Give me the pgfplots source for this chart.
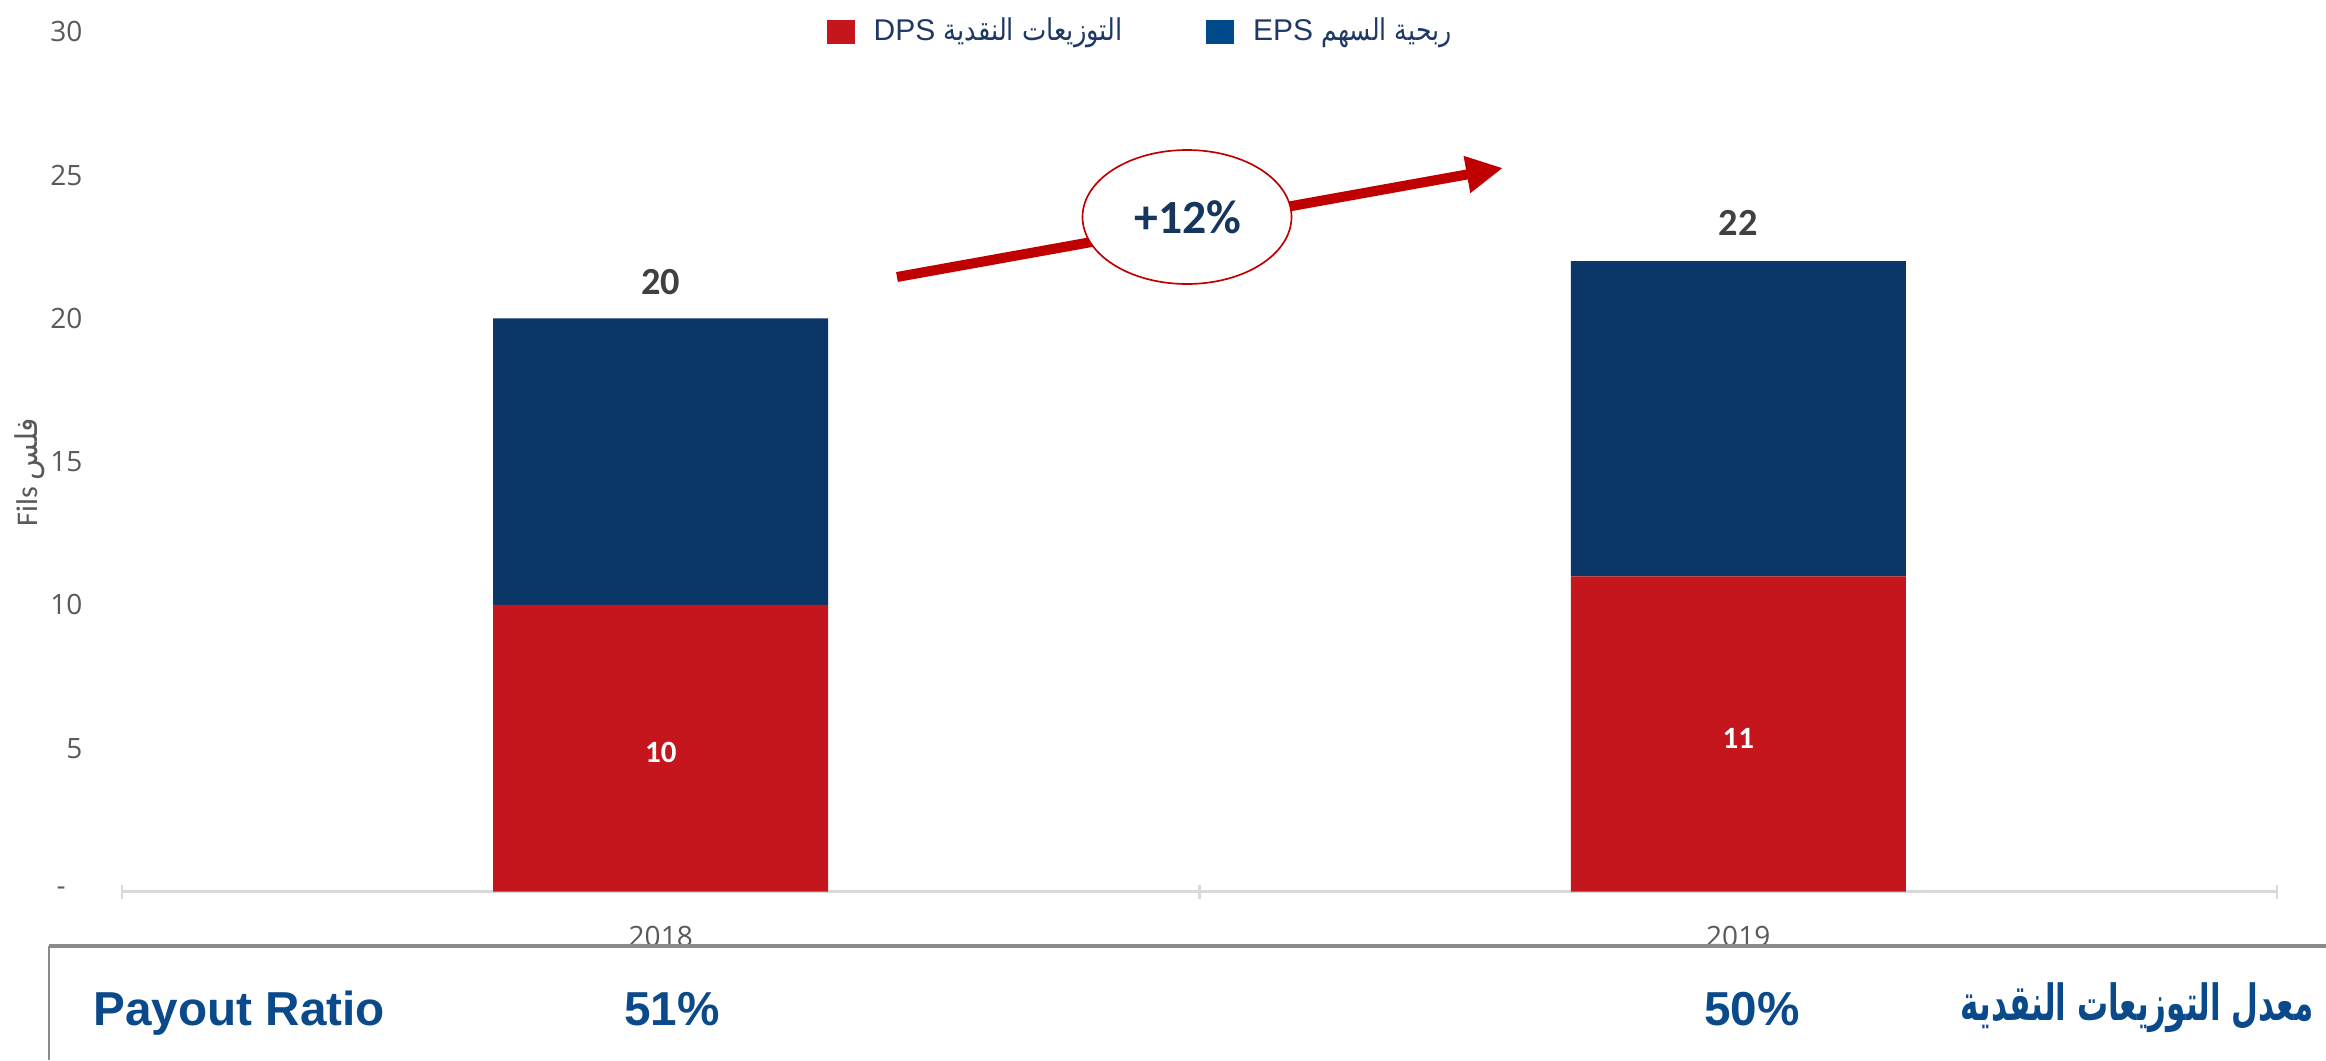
\documentclass[border=0pt]{standalone}
\usepackage{pgfplots}
\pgfplotsset{compat=1.18}
\usepackage{fontspec}
\usetikzlibrary{arrows.meta}
\TeXXeTstate=1
\setmainfont{Liberation Sans}
\newfontfamily\arabicfont[Script=Arabic]{DejaVu Sans}
\newfontfamily\carlito{Carlito}
\newfontfamily\opensans{Open Sans}
\definecolor{barred}{HTML}{C4161C}
\definecolor{barblue}{HTML}{0B3668}
\definecolor{legblue}{HTML}{00498A}
\definecolor{arrowred}{HTML}{C00000}
\definecolor{legtext}{HTML}{1F3864}
\definecolor{navy}{HTML}{17365D}
\definecolor{payblue}{HTML}{0B4A8A}
\definecolor{tickgray}{HTML}{595959}
\definecolor{totgray}{HTML}{404040}
\definecolor{axgray}{HTML}{D9D9D9}
\definecolor{boxgray}{HTML}{8A8A8A}
\begin{document}
\begin{tikzpicture}[x=0.3pt,y=0.3pt]
\path[use as bounding box] (0,0) rectangle (2326,1060);
\begin{axis}[
  at={(36.6pt,50.55pt)}, anchor=south west,
  scale only axis, width=646.5pt, height=257.9pt,
  ybar stacked, bar width=100.5pt,
  xmin=-0.5, xmax=1.5, ymin=0, ymax=30,
  enlargelimits=false, clip=false,
  axis x line*=bottom, axis y line*=left,
  y axis line style={draw=none},
  x axis line style={color=axgray, line width=0.7pt},
  xtick={0,1}, xticklabels={2018,2019},
  ytick={0,5,10,15,20,25,30},
  yticklabels={-\kern5pt,5,10,15,20,25,30},
  major tick length=0pt,
  extra x ticks={-0.5,0.5,1.5}, extra x tick labels={},
  extra x tick style={major tick length=4.2pt, tick align=center, tick style={color=axgray, line width=0.7pt}},
  /pgf/number format/assume math mode=true,
  tick label style={font=\opensans\fontsize{8.4}{10}\selectfont, text=tickgray},
  yticklabel style={anchor=east, inner sep=0pt, xshift=-11.7pt},
  xticklabel style={anchor=center, inner sep=0pt, yshift=-13.4pt},
  legend columns=2,
  legend style={draw=none, fill=none, inner sep=0pt, at={(0.3267,1.0)}, anchor=west,
    font=\fontsize{9}{11}\selectfont, text=legtext,
    nodes={inner sep=0pt},
    /tikz/every odd column/.append style={column sep=5.7pt},
    /tikz/every even column/.append style={column sep=25pt}},
]
\addplot[fill=barred, draw=none,
  legend image code/.code={\fill[barred] (0pt,-3.6pt) rectangle (8.4pt,3.6pt);}]
  coordinates {(0,10) (1,11)};
\addlegendentry{DPS \scalebox{0.86}[1]{\arabicfont\beginR التوزيعات النقدية\endR}}
\addplot[fill=barblue, draw=none,
  legend image code/.code={\fill[legblue] (0pt,-3.6pt) rectangle (8.4pt,3.6pt);}]
  coordinates {(0,10) (1,11)};
\addlegendentry{EPS \scalebox{0.84}[1]{\arabicfont\beginR ربحية السهم\endR}}
\coordinate (t18) at (axis cs:0,20);
\coordinate (t19) at (axis cs:1,22);
\coordinate (m18) at (axis cs:0,5);
\coordinate (m19) at (axis cs:1,5.5);
\end{axis}
% bar value labels
\node[font=\carlito\bfseries\fontsize{11.5}{13}\selectfont, text=totgray, yshift=11pt] at (t18) {20};
\node[font=\carlito\bfseries\fontsize{11.5}{13}\selectfont, text=totgray, yshift=11.4pt] at (t19) {22};
\node[font=\carlito\bfseries\fontsize{9.3}{11}\selectfont, text=white, yshift=-1.3pt] at (m18) {10};
\node[font=\carlito\bfseries\fontsize{9.3}{11}\selectfont, text=white, yshift=-1.3pt] at (m19) {11};
% growth arrow and badge
\draw[arrowred, line width=3pt, -{Triangle[length=11pt,width=10.5pt]}] (897,783) -- (1503,892);
\draw[arrowred, line width=0.5pt, fill=white] (1187,843) ellipse [x radius=31.35pt, y radius=20.1pt];
\node[font=\carlito\bfseries\fontsize{14.3}{16}\selectfont, text=navy] at (1188,843) {+12\%};
% y label
\node[rotate=90, font=\carlito\fontsize{9}{10}\selectfont, text=tickgray] at (30,588) {Fils {\arabicfont\beginR فلس\endR}};
% bottom box
\draw[line width=1.1pt, color=boxgray] (49,114) -- (2326,114);
\draw[line width=0.45pt, color=boxgray] (49,114) -- (49,0);
\node[anchor=base west, inner sep=0pt, font=\bfseries\fontsize{14.3}{16}\selectfont, text=payblue] at (93,35) {Payout Ratio};
\node[anchor=base, inner sep=0pt, font=\bfseries\fontsize{14.3}{16}\selectfont, text=payblue] at (672,35) {51\%};
\node[anchor=base, inner sep=0pt, font=\bfseries\fontsize{14.3}{16}\selectfont, text=payblue] at (1752,35) {50\%};
\node[anchor=base east, inner sep=0pt, font=\arabicfont\bfseries\fontsize{13}{16}\selectfont, text=payblue] at (2314,40) {\scalebox{0.715}[1.15]{\beginR معدل التوزيعات النقدية\endR}};
\end{tikzpicture}
\end{document}
